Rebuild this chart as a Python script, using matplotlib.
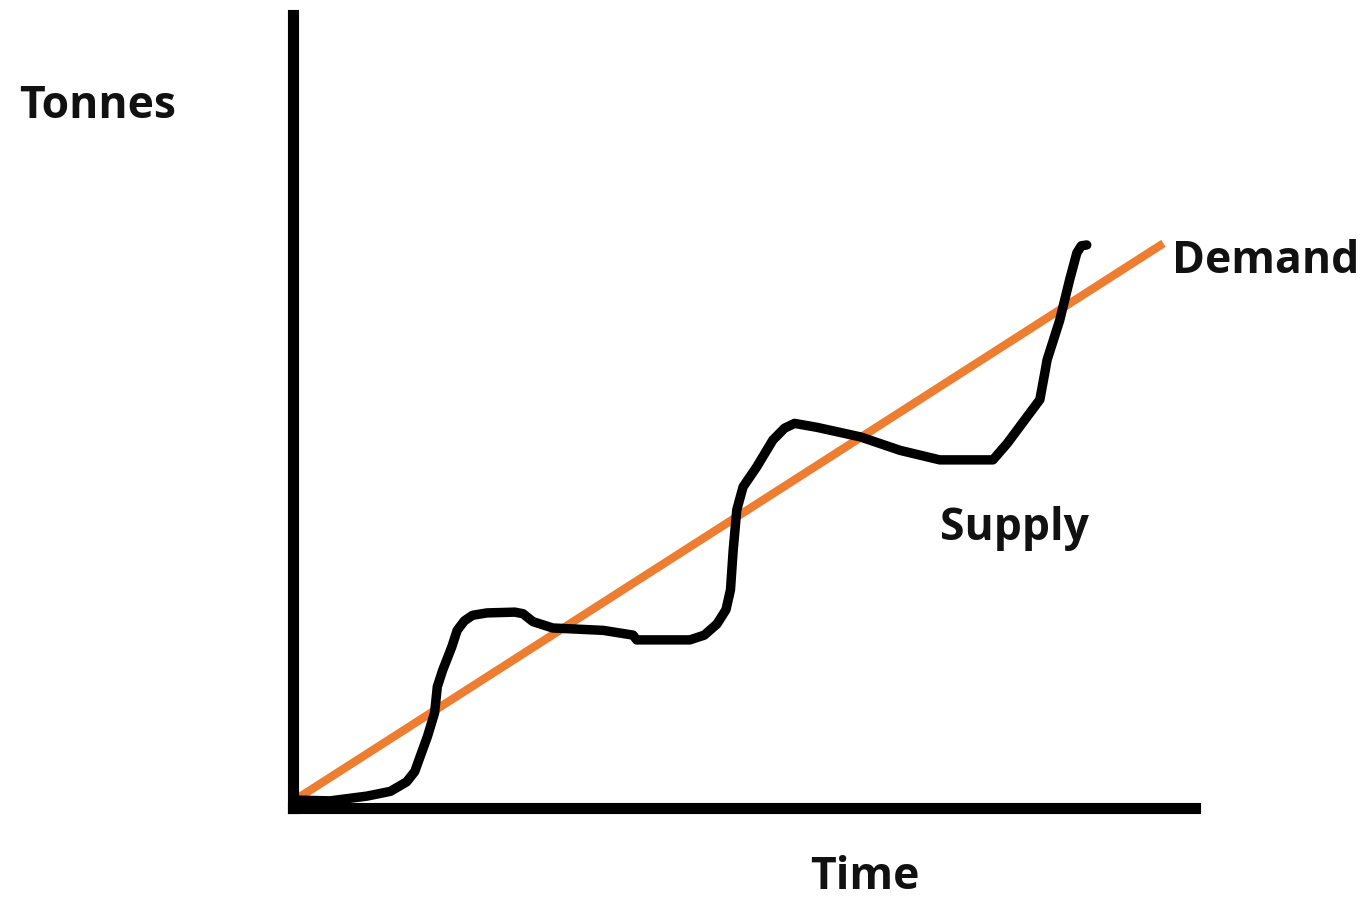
import matplotlib
matplotlib.use("Agg")
import matplotlib.pyplot as plt

# demand: straight line from origin
demand_t = [0.2, 96.5]
demand_q = [1.0, 71.2]

# supply: hand-drawn stepped curve
supply_t = [0.4, 4.1, 8.2, 10.8, 12.6, 13.5, 14.1, 14.9, 15.7, 16.0, 16.6, 17.6, 18.2,
            19.0, 19.9, 21.5, 24.6, 25.5, 26.6, 28.8, 34.4, 37.7, 38.1, 44.0, 45.6, 47.0,
            48.0, 48.5, 48.8, 49.2, 49.9, 51.4, 53.2, 54.5, 55.6, 58.1, 62.9, 67.3, 71.7,
            77.6, 79.2, 82.8, 83.4, 83.6, 85.0, 86.1, 86.9, 87.4, 88.0]
supply_q = [1.0, 0.9, 1.5, 2.1, 3.3, 4.6, 6.5, 9.0, 12.0, 15.3, 17.4, 20.3, 22.4,
            23.6, 24.3, 24.6, 24.7, 24.5, 23.5, 22.7, 22.4, 21.8, 21.2, 21.2, 21.8, 23.2,
            25.0, 27.5, 32.5, 37.6, 40.5, 43.0, 46.4, 47.9, 48.5, 48.0, 46.8, 45.1, 43.9,
            43.9, 46.0, 51.5, 55.2, 56.5, 61.5, 66.6, 70.0, 70.9, 71.0]

fig = plt.figure(figsize=(13.64, 9), dpi=100)
ax = fig.add_axes([293/1364, 92/900, 902/1364, 793/900])
ax.set_xlim(0, 100)
ax.set_ylim(0, 100)

ax.plot(demand_t, demand_q, color='#ED7D31', lw=6, solid_capstyle='butt', zorder=2)
ax.plot(supply_t, supply_q, color='black', lw=6.8, solid_capstyle='round',
        solid_joinstyle='round', zorder=3)

for side in ['top', 'right']:
    ax.spines[side].set_visible(False)
for side in ['left', 'bottom']:
    ax.spines[side].set_linewidth(8)
    ax.spines[side].set_capstyle('projecting')
ax.set_xticks([])
ax.set_yticks([])

font = dict(family='Open Sans', weight='bold', size=32, color='#111111')
ax.text(-21.7, 87.0, 'Tonnes', ha='center', va='baseline', clip_on=False, **font)
ax.text(97.5, 67.5, 'Demand', ha='left', va='baseline', clip_on=False, **font)
ax.text(80.0, 33.8, 'Supply', ha='center', va='baseline', **font)
ax.text(63.4, -10.2, 'Time', ha='center', va='baseline', clip_on=False, **font)

fig.savefig('out.png', dpi=100)
